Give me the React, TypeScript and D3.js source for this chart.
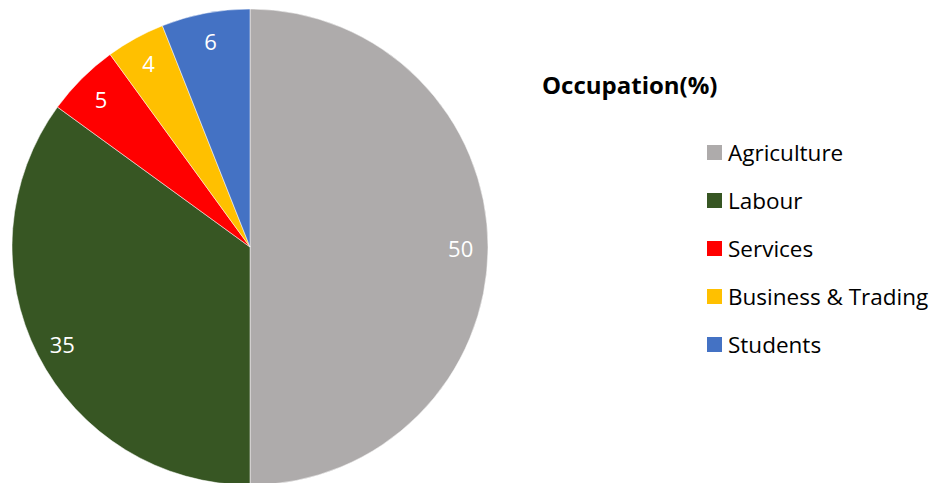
import React, { useEffect, useRef } from 'react';
import * as d3 from 'd3';

const categories = ['Agriculture', 'Labour', 'Services', 'Business & Trading', 'Students'];
const values = [50, 35, 5, 4, 6];
const colors = ['#AEABAB', '#375623', '#FF0000', '#FFC000', '#4472C4'];

const App: React.FC = () => {
  const ref = useRef<SVGSVGElement>(null);

  useEffect(() => {
    if (!ref.current) return;
    const svg = d3.select(ref.current);
    svg.selectAll('*').remove();

    const font = 'Open Sans, Liberation Sans, sans-serif';
    const cx = 250;
    const cy = 247;
    const radius = 238;

    const data = categories.map((name, i) => ({ name, value: values[i], color: colors[i] }));

    const pie = d3.pie<any>().value(d => d.value).sort(null);
    const arc = d3.arc<any>().innerRadius(0).outerRadius(radius);
    const labelArc = d3.arc<any>().innerRadius(radius * 0.885).outerRadius(radius * 0.885);

    const g = svg.append('g').attr('transform', `translate(${cx},${cy})`);
    const slices = g.selectAll('.slice').data(pie(data)).enter().append('g').attr('class', 'slice');

    slices.append('path')
      .attr('d', arc)
      .attr('fill', d => d.data.color)
      .attr('stroke', 'white')
      .attr('stroke-width', 0.5);

    slices.append('text')
      .attr('transform', d => `translate(${labelArc.centroid(d)})`)
      .attr('text-anchor', 'middle')
      .attr('dy', '0.45em')
      .attr('font-family', font)
      .attr('font-size', '22px')
      .attr('fill', 'white')
      .text(d => d.data.value);

    // Legend
    svg.append('text')
      .attr('x', 542)
      .attr('y', 86)
      .attr('dy', '0.35em')
      .attr('font-family', font)
      .attr('font-size', '24px')
      .attr('font-weight', 'bold')
      .attr('fill', '#000')
      .text('Occupation(%)');

    const legend = svg.selectAll('.legend')
      .data(data)
      .enter()
      .append('g')
      .attr('class', 'legend')
      .attr('transform', (d, i) => `translate(707, ${152 + i * 48})`);

    legend.append('rect')
      .attr('y', -7)
      .attr('width', 15)
      .attr('height', 15)
      .attr('fill', d => d.color);

    legend.append('text')
      .attr('x', 21)
      .attr('y', 1)
      .attr('dy', '0.35em')
      .attr('font-family', font)
      .attr('font-size', '22.5px')
      .attr('fill', '#000')
      .text(d => d.name);
  }, []);

  return (
    <svg
      ref={ref}
      width={940}
      height={483}
      style={{ position: 'absolute', left: 0, top: 0, background: 'white' }}
    />
  );
};

export default App;
